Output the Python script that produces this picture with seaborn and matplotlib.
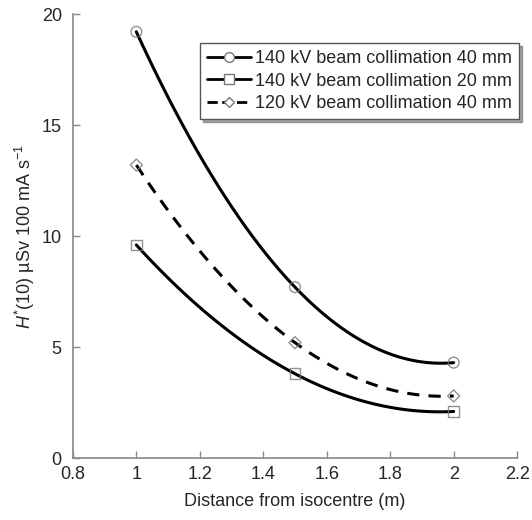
import numpy as np
import pandas as pd
import seaborn as sns
from matplotlib import pyplot as plt
from matplotlib.lines import Line2D

# data
distance = [1.0, 1.5, 2.0]
kv140_40mm = [19.2, 7.7, 4.3]
kv140_20mm = [9.6, 3.8, 2.1]
kv120_40mm = [13.2, 5.2, 2.8]
labels = ['140 kV beam collimation 40 mm',
          '140 kV beam collimation 20 mm',
          '120 kV beam collimation 40 mm']
markers = ['o', 's', 'D']
styles = ['-', '-', '--']

sns.set_style('ticks')
plt.rcParams['font.family'] = ['Liberation Sans', 'DejaVu Sans']
plt.rcParams['mathtext.fontset'] = 'custom'
plt.rcParams['mathtext.rm'] = 'Liberation Sans'
plt.rcParams['mathtext.it'] = 'Liberation Sans:italic'

fig = plt.figure(figsize=(5.32, 5.2), dpi=100)
ax = fig.add_axes([0.137, 0.119, 0.835, 0.854])

series = [kv140_40mm, kv140_20mm, kv120_40mm]
sizes = [60, 60, 38]
handles = []
for vals, lab, m, ls, s in zip(series, labels, markers, styles, sizes):
    df = pd.DataFrame({'x': distance, 'y': vals})
    sns.regplot(data=df, x='x', y='y', order=2, ci=None, ax=ax, marker=m,
                scatter_kws={'s': s, 'facecolors': 'none', 'edgecolors': '#777777',
                             'linewidths': 1.0, 'zorder': 3},
                line_kws={'color': 'black', 'lw': 2.2, 'ls': ls,
                          'dashes': (4, 3) if ls == '--' else (None, None)})
    handles.append(Line2D([], [], color='black', lw=2.0, ls=ls, marker=m,
                          markersize=7 if m != 'D' else 5.5,
                          markerfacecolor='white', markeredgecolor='#777777', label=lab))

ax.set_xlim(0.8, 2.2)
ax.set_ylim(0, 20)
ax.set_xticks(np.arange(0.8, 2.21, 0.2))
ax.set_xticklabels(['0.8', '1', '1.2', '1.4', '1.6', '1.8', '2', '2.2'])
ax.set_yticks([0, 5, 10, 15, 20])
ax.tick_params(direction='in', length=5, width=1, color='#888888', labelsize=13)
ax.tick_params(axis='x', pad=6)
ax.tick_params(axis='y', pad=8)
for sp in ['left', 'bottom']:
    ax.spines[sp].set_color('#888888')
    ax.spines[sp].set_linewidth(1.2)
sns.despine(ax=ax)

ax.set_xlabel('Distance from isocentre (m)', fontsize=13, labelpad=7)
ax.set_ylabel(r'$\mathit{H}^{*}$(10) µSv 100 mA s$^{-1}$', fontsize=13, labelpad=3)

leg = ax.legend(handles=handles, loc='upper right', bbox_to_anchor=(1.005, 0.935),
                fontsize=13, frameon=True, fancybox=False, shadow=True,
                handlelength=2.4, handletextpad=0.25, borderpad=0.4, labelspacing=0.3,
                borderaxespad=0.0)
leg.get_frame().set_edgecolor('#555555')
leg.get_frame().set_linewidth(1.0)

plt.savefig('out.png', dpi=100)
